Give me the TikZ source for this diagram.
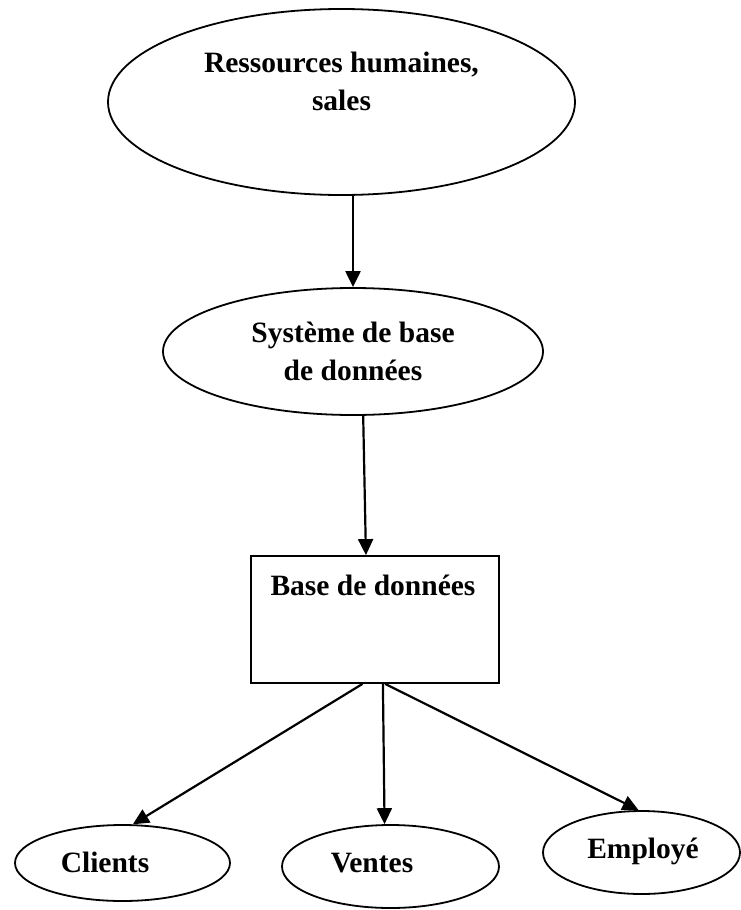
\documentclass[tikz,border=0pt]{standalone}
\usepackage{fontspec}
\setmainfont{Liberation Serif}
\usetikzlibrary{arrows.meta,shapes.geometric}
% two centred lines whose reference point is the first baseline
\newcommand{\twolines}[2]{\begin{tabular}[t]{@{}c@{}}#1\\#2\end{tabular}}
\begin{document}
\begin{tikzpicture}[x=1pt,y=-1pt,
  shapeline/.style={draw=black, line width=1.8pt},
  ellbox/.style={shapeline, ellipse, inner sep=0pt},
  boxnode/.style={shapeline, rectangle, inner sep=0pt},
  lbl/.style={inner sep=0pt, anchor=base, font=\fontsize{29.5pt}{38pt}\selectfont\bfseries},
  link/.style={line width=2.2pt, -{Triangle[length=16pt,width=15pt]}}]
\useasboundingbox (0,0) rectangle (740,910);

% shapes
\node[ellbox, minimum width=467pt, minimum height=186pt] (hr)  at (341.5,102) {};
\node[ellbox, minimum width=380pt, minimum height=127pt] (sys) at (353,351.5) {};
\node[boxnode, minimum width=248pt, minimum height=127pt] (db) at (375,619.5) {};
\node[ellbox, minimum width=215pt, minimum height=76pt]  (cl)  at (122.5,863) {};
\node[ellbox, minimum width=217pt, minimum height=83pt]  (ve)  at (390.5,866.5) {};
\node[ellbox, minimum width=197pt, minimum height=83pt]  (em)  at (641.5,852.5) {};

% labels
\node[lbl] (hrtext)  at (341.5,72) {\twolines{Ressources humaines,}{sales}};
\node[lbl] (systext) at (353,342)  {\twolines{Système de base}{de données}};
\node[lbl] (dbtext)  at (373,595)  {Base de données};
\node[lbl] (cltext)  at (105,872)  {Clients};
\node[lbl] (vetext)  at (372,872)  {Ventes};
\node[lbl] (emtext)  at (643,858)  {Employé};

% connectors
\draw[link] (hr.south -| sys.north) -- (sys.north);
\draw[link] (sys.-81.5) -- (db.98.9);
\draw[link] (db.-101.6) -- (cl.75.3);
\draw[link] (db.-83.7)  -- (ve.98.7);
\draw[link] (db.-81)    -- (em.94.7);
\end{tikzpicture}
\end{document}
